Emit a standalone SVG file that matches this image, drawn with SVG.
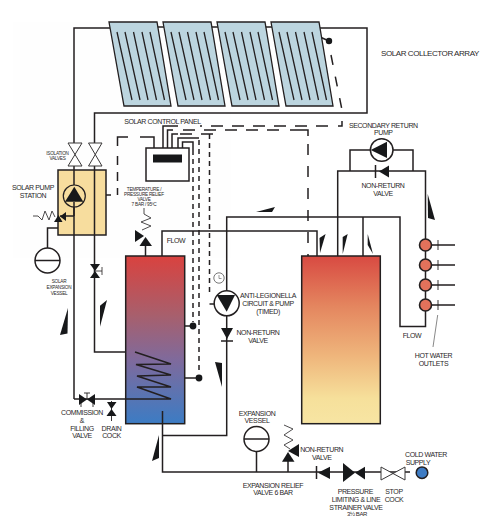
<svg xmlns="http://www.w3.org/2000/svg" xmlns:xlink="http://www.w3.org/1999/xlink" width="500" height="524" viewBox="0 0 500 524">
<style>
text{font-family:"Liberation Sans",Arial,sans-serif;fill:#2a2728;text-anchor:middle;letter-spacing:-.4px}
.t7{font-size:7px}.t5{font-size:4.7px;letter-spacing:-.25px}.t8{font-size:8px;letter-spacing:-.43px}
.p{fill:none;stroke:#231f20;stroke-width:1.5}
.d{fill:none;stroke:#231f20;stroke-width:1.5;stroke-dasharray:12 9}
.dv{fill:none;stroke:#231f20;stroke-width:1.5;stroke-dasharray:11 11}
.d2{fill:none;stroke:#231f20;stroke-width:1.5;stroke-dasharray:5 4}
.b{fill:#17181a}
.w{fill:#fff;stroke:#3a3839;stroke-width:1}
.c{fill:#fff;stroke:#231f20;stroke-width:1.5}
.h{fill:#e2725b;stroke:#231f20;stroke-width:1.6}
.z{fill:none;stroke:#3a3839;stroke-width:.9}
</style>
<defs>
<linearGradient id="g1" x1="0" y1="0" x2="0" y2="1"><stop offset="0" stop-color="#d9423f"/><stop offset=".35" stop-color="#a85f6c"/><stop offset=".62" stop-color="#7f6a9c"/><stop offset="1" stop-color="#3c7cc4"/></linearGradient>
<linearGradient id="g2" x1="0" y1="0" x2="0" y2="1"><stop offset="0" stop-color="#d84a42"/><stop offset=".3" stop-color="#e4865f"/><stop offset=".6" stop-color="#efb67c"/><stop offset=".85" stop-color="#f6e09b"/><stop offset="1" stop-color="#f7e5a3"/></linearGradient>
<g id="panel">
<polygon points="109,22 157,22 171,106 124,106" fill="#bcd5df" stroke="#231f20" stroke-width="1.3"/>
<path d="M117,32L132,100M125,32L140,100M133.500,32L148,100M142,32L156.500,100M150,32L164.500,100" fill="none" stroke="#231f20" stroke-width="1.3"/>
</g>
</defs>
<rect width="500" height="524" fill="#fff"/>
<rect x="13" y="22" width="218" height="236" fill="#fefefe"/>
<g id="connectors">
<path class="p" d="M74,143V28H110M155,27H165M209,27H219M263,27H273M318,28H367V113H94.500V143"/>
<path class="p" d="M74,166V399M94.500,166V352H135L171,364L136,364.500L171,375L137,376L171,387L137,387L171,399H74"/>
<path class="p" d="M320,37L329,41"/>
<path class="dv" d="M331,55L342,110" style="stroke-dasharray:10 12"/>
<path class="p" d="M342,121V126H338"/>
<path class="d" d="M328,126H200"/>
<path class="p" d="M163,148V126H178"/>
<path class="p" d="M167.500,148V130H173M172,148V134H178M178,148V138H199M182.500,148V142H193V150"/>
<path class="d" d="M279,130H180"/>
<path class="p" d="M290,130H308V136"/>
<path class="dv" d="M308,144V256"/>
<path class="d" d="M213,134H180"/>
<path class="d2" d="M209.500,134V296"/>
<path class="p" d="M209.500,304H215"/>
<path class="d2" d="M199,140V372"/>
<path class="d2" d="M193,150V322"/>
<path class="p" d="M184.500,326H193M184.500,378H199"/>
<path class="p" d="M154,148V137H140M128,137H117.500V146"/>
<path class="d2" d="M117.500,156V195" style="stroke-dasharray:9 7"/>
<path class="p" d="M106,195H111"/>
<path class="p" d="M162,256V231H317V256"/>
<path class="p" d="M226.700,291V217H400V326.500H425.500V171H337.700V256M363,217V256"/>
<path class="p" d="M350,171V150H413V171"/>
<path class="p" d="M226.700,315V435.500H162.500M162.500,411V472H410"/>
<path class="p" d="M145.500,246V256M47.500,248V228H58M256.500,451V472M288,460V472"/>
<path class="p" d="M431,245H455M431,265H455M431,285H455M431,305H455"/>
<path d="M438,240V250M438,260V270M438,280V290M438,300V310" fill="none" stroke="#231f20" stroke-width=".9"/>
<path d="M437.700,315L433,347" fill="none" stroke="#555" stroke-width=".7"/>
</g>
<g id="flow-arrows" class="b">
<polygon points="68,308 60,335 67.500,333.500"/>
<polygon points="107,300 100,305.700 100,326.700"/>
<polygon points="215,362 222,363 222,387"/>
<polygon points="159,435 152,461 159,458"/>
<polygon points="256,212 275,207 272,212"/>
<polygon points="325.600,234 319.500,238 320,253"/>
<polygon points="347.700,234 342.700,237 342.700,254"/>
<polygon points="367.700,234 367.700,245 373,254"/>
<polygon points="427.700,194 428,218 435,220"/>
</g>
<g id="collectors">
<use xlink:href="#panel" href="#panel"/>
<use xlink:href="#panel" href="#panel" x="54"/>
<use xlink:href="#panel" href="#panel" x="108"/>
<use xlink:href="#panel" href="#panel" x="162"/>
<text class="t8" x="430" y="55.500">SOLAR COLLECTOR ARRAY</text>
</g>
<g id="sensor-top"><circle class="b" cx="329" cy="41" r="3.200"/></g>
<g id="isolation-valves">
<polygon class="w" points="68,143 82,143 68,166 82,166"/>
<polygon class="w" points="88.500,143 102,143 88.500,166 102,166"/>
<text class="t5" x="57.500" y="154.500">ISOLATION</text><text class="t5" x="57.500" y="160">VALVES</text>
</g>
<g id="control-panel">
<rect x="146" y="148" width="43" height="33" fill="#fff" stroke="#231f20" stroke-width="1.5"/>
<rect class="b" x="153" y="154.500" width="29" height="8"/>
<text class="t7" x="162.500" y="124">SOLAR CONTROL PANEL</text>
</g>
<g id="pump-station">
<rect x="58" y="170" width="48" height="65" fill="#f7dd9e" stroke="#231f20" stroke-width="1.500"/>
<path class="p" d="M74,170V235M94.500,170V235M74,216H60"/>
<circle cx="74.300" cy="196" r="11" fill="#f7dd9e" stroke="#231f20" stroke-width="1.200"/>
<polygon class="b" points="74.300,186.700 65,201.700 83.300,201.700"/>
<path class="p" d="M74,202V216"/>
<path class="z" d="M33,216H38L42,220L45,211L49,220L52,211L55,217"/>
<polygon class="b" points="66,212 60,216.500 66,221"/>
<polygon class="b" points="58.500,215 54,222 62.500,222"/>
<text class="t7" x="33" y="189.500">SOLAR PUMP</text><text class="t7" x="33" y="197.500">STATION</text>
</g>
<g id="solar-expansion-vessel">
<circle class="c" cx="47.500" cy="260.500" r="12.500"/>
<path class="p" d="M35,260.500H60"/>
<text class="t5" x="59" y="283">SOLAR</text><text class="t5" x="59" y="289">EXPANSION</text><text class="t5" x="59" y="295">VESSEL</text>
</g>
<g id="return-valve">
<polygon class="b" points="90,264 100,264 95,271"/><polygon class="b" points="95,271 90,278 100,278"/>
<path d="M95,271H102M102,267V275" fill="none" stroke="#231f20" stroke-width=".8"/>
</g>
<g id="relief-valve">
<path class="z" d="M144,208V214L151,218L141,222L151,226L142,230"/>
<polygon class="b" points="135,230 135,242 144,236"/>
<polygon class="b" points="145.500,237 139.500,246 152,246"/>
<text class="t5" x="144" y="191">TEMPERATURE /</text><text class="t5" x="144" y="196">PRESSURE RELIEF</text><text class="t5" x="144" y="201">VALVE</text><text class="t5" x="144" y="206">7 BAR / 95ºC</text>
<text class="t7" x="176" y="243">FLOW</text>
</g>
<g id="solar-tank">
<rect x="125.700" y="256" width="59" height="167.700" fill="url(#g1)" stroke="#231f20" stroke-width="1.500"/>
<path class="p" d="M135,352L171,364L136,364.500L171,375L137,376L171,387L137,387L171,399H125.700M162.500,411V423.700"/>
<circle class="b" cx="193" cy="326" r="3.400"/><circle class="b" cx="199" cy="378" r="3.400"/>
</g>
<g id="hot-tank">
<rect x="301.700" y="256" width="78.600" height="167.700" fill="url(#g2)" stroke="#231f20" stroke-width="1.500"/>
</g>
<g id="commission-valve">
<polygon class="b" points="79,394 79,405 87,399.500"/><polygon class="b" points="95,394 95,405 87,399.500"/>
<path d="M87,399V393M84,393H90M81,403V407M93,403V407" fill="none" stroke="#231f20" stroke-width=".9"/>
<text class="t7" x="82" y="414.700">COMMISSION</text><text class="t7" x="82" y="422.500">&amp;</text><text class="t7" x="82" y="430.500">FILLING</text><text class="t7" x="82" y="438">VALVE</text>
</g>
<g id="drain-cock">
<path d="M111.500,401V421" fill="none" stroke="#231f20" stroke-width=".9"/>
<polygon class="b" points="107,402 116.500,402 111.500,409"/><polygon class="b" points="111.500,409 106.500,416 116.500,416"/>
<text class="t7" x="111.500" y="430.500">DRAIN</text><text class="t7" x="111.500" y="438">COCK</text>
</g>
<g id="anti-legionella">
<circle cx="219" cy="278" r="5.200" fill="#fff" stroke="#555" stroke-width=".8"/>
<path d="M219,275V278.500H221.500" fill="none" stroke="#555" stroke-width=".6"/>
<circle class="c" cx="226.700" cy="303.300" r="12.500"/>
<polygon class="b" points="216.700,295 235,295 226.700,311.700"/>
<polygon class="b" points="221,328 233,328 227,339"/>
<path class="p" d="M221,341H233"/>
<text class="t7" x="268" y="298">ANTI-LEGIONELLA</text><text class="t7" x="268" y="306">CIRCUIT &amp; PUMP</text><text class="t7" x="268" y="314">(TIMED)</text>
<text class="t7" x="258" y="335">NON-RETURN</text><text class="t7" x="258" y="343">VALVE</text>
</g>
<g id="secondary-pump">
<circle class="c" cx="381.700" cy="150" r="11.300"/>
<polygon class="b" points="370.700,150 387,141.700 387,158"/>
<polygon class="b" points="379,171.500 389,165.500 389,177.500"/>
<path class="p" d="M375.500,165V178"/>
<text class="t7" x="383.300" y="127.500">SECONDARY RETURN</text><text class="t7" x="383.300" y="135">PUMP</text>
<text class="t7" x="383" y="187.700">NON-RETURN</text><text class="t7" x="383" y="195.700">VALVE</text>
</g>
<g id="hot-water-outlets">
<circle class="h" cx="425.500" cy="245" r="6"/><circle class="h" cx="425.500" cy="265" r="6"/><circle class="h" cx="425.500" cy="285" r="6"/><circle class="h" cx="425.500" cy="305" r="6"/>
<text class="t7" x="412" y="337.500">FLOW</text>
<text class="t7" x="433.500" y="357.500">HOT WATER</text><text class="t7" x="433.500" y="365.500">OUTLETS</text>
</g>
<g id="expansion-vessel">
<circle class="c" cx="256.500" cy="439" r="12.500"/>
<path class="p" d="M244,439H269"/>
<text class="t7" x="257" y="415.500">EXPANSION</text><text class="t7" x="257" y="423">VESSEL</text>
<text class="t7" x="273" y="487.500">EXPANSION RELIEF</text><text class="t7" x="273" y="495">VALVE 6 BAR</text>
</g>
<g id="expansion-relief">
<path class="z" d="M284,425L293,429L284,435L293,440L284,445L290,449"/>
<polygon class="b" points="282,461.700 294.500,461.700 288,452"/>
<polygon class="b" points="299,444 299,457 288,451"/>
<text class="t7" x="321.700" y="451.500">NON-RETURN</text><text class="t7" x="321.700" y="459.500">VALVE</text>
</g>
<g id="line-non-return">
<path class="p" d="M316.500,466V479"/>
<polygon class="b" points="318,472.700 330,466.700 330,479"/>
</g>
<g id="pressure-valve">
<polygon class="b" points="343,463 343,482 355,472.700"/>
<polygon class="b" points="355,472.700 365,466.700 365,479.500"/>
<text class="t7" x="355.300" y="493.500">PRESSURE</text><text class="t7" x="356" y="501.500">LIMITING &amp; LINE</text><text class="t7" x="356" y="509.500">STRAINER VALVE</text><text class="t7" x="357" y="516" style="font-size:6px">3½   BAR</text>
</g>
<g id="stop-cock">
<polygon class="w" points="381,467 405,480 405,467 381,480"/>
<text class="t7" x="394" y="493.500">STOP</text><text class="t7" x="394" y="501.500">COCK</text>
</g>
<g id="cold-water">
<circle cx="422" cy="472.700" r="5.800" fill="#3e7cc4" stroke="#231f20" stroke-width="1.500"/>
<text class="t7" x="426" y="456.500">COLD WATER</text><text class="t7" x="418" y="464.500">SUPPLY</text>
</g>
</svg>
